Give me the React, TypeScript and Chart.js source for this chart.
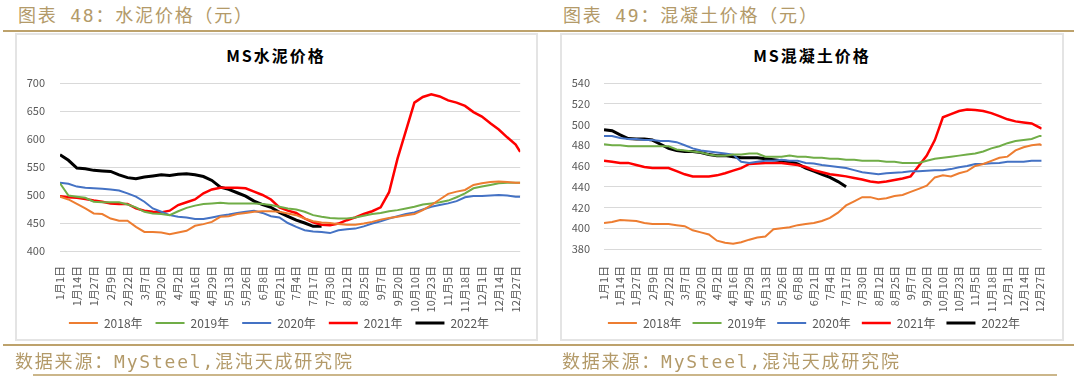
import React, { useEffect, useRef } from 'react';
import { Chart, registerables } from 'chart.js';

Chart.register(...registerables);

// ---------- data ----------
const tickLabels = ['1月1日', '1月14日', '1月27日', '2月9日', '2月22日', '3月7日', '3月20日', '4月2日', '4月16日', '4月29日', '5月13日', '5月26日', '6月8日', '6月21日', '7月4日', '7月17日', '7月30日', '8月12日', '8月25日', '9月7日', '9月20日', '10月10日', '10月23日', '11月5日', '11月18日', '12月1日', '12月14日', '12月27日'];

const years = ['2018年', '2019年', '2020年', '2021年', '2022年'];

// samples every half tick-label step, plus the last sample of the year
const cementEnd = 27.27;
const concreteEnd = 27.12;

const cement2018 = [497, 492, 484, 476, 467, 466, 458, 454, 454, 443, 434, 434, 433, 430, 433, 436, 445, 448, 452, 461, 462, 466, 468, 470, 471, 471, 470, 467, 464, 458, 453, 451, 450, 448, 447, 447, 449, 452, 456, 459, 461, 464, 466, 473, 482, 492, 502, 506, 509, 518, 521, 523, 524, 523, 522, 522];
const cement2019 = [521, 499, 497, 495, 488, 487, 487, 487, 483, 478, 470, 467, 466, 464, 471, 477, 481, 484, 485, 486, 485, 485, 485, 485, 484, 482, 479, 476, 474, 470, 464, 461, 459, 458, 458, 460, 463, 466, 468, 471, 473, 476, 479, 483, 485, 487, 490, 496, 503, 512, 515, 518, 521, 522, 522, 522];
const cement2020 = [522, 520, 515, 513, 512, 511, 510, 508, 503, 497, 488, 476, 470, 464, 461, 460, 457, 457, 460, 463, 465, 468, 470, 472, 468, 462, 460, 450, 443, 437, 435, 434, 432, 437, 439, 440, 444, 449, 453, 458, 462, 466, 469, 474, 479, 482, 485, 489, 496, 498, 498, 499, 500, 499, 497, 497];
const cement2021 = [498, 496, 495, 493, 490, 488, 485, 484, 484, 476, 472, 470, 469, 472, 482, 487, 492, 503, 510, 513, 513, 513, 512, 506, 500, 492, 478, 472, 468, 458, 451, 447, 446, 449, 455, 460, 466, 471, 478, 505, 565, 615, 665, 675, 680, 676, 669, 665, 659, 648, 640, 628, 617, 603, 590, 577];
const cement2022 = [572, 562, 548, 547, 544, 543, 542, 536, 531, 529, 532, 534, 536, 535, 537, 538, 536, 533, 526, 514, 510, 504, 498, 489, 483, 478, 469, 462, 455, 450, 444, 444];

const concrete2018 = [405, 406, 408, 407.5, 407, 405, 404, 404, 404, 403, 402, 398, 396, 394, 388, 386, 385, 386.5, 389, 391, 392, 399, 400, 401, 403, 404, 405, 407, 410, 415, 422, 426, 430, 430, 428, 429, 431, 432, 435, 438, 441, 449, 451, 450, 453, 455, 460, 462, 465, 468, 469, 475, 478, 480, 481, 480];
const concrete2019 = [481, 480, 480, 479, 479, 479, 479, 479, 479, 476, 475, 474, 473, 471, 470, 470, 471, 471, 472, 472, 469, 469, 469, 470, 469, 469, 468, 468, 467, 467, 466, 466, 465, 465, 465, 464, 464, 463, 463, 463, 465, 467, 468, 469, 470, 471, 472, 474, 477, 479, 482, 484, 485, 486, 489, 489];
const concrete2020 = [489, 489, 487, 486, 486, 485, 485, 484, 484, 483, 480, 477, 475, 474, 473, 472, 471, 464, 463, 464, 465, 465, 466, 465, 465, 463, 462.5, 461, 460, 459, 458, 456, 454, 453, 452, 453, 453.5, 454, 455, 455, 455.5, 456, 456, 457, 458.7, 460, 462, 462, 462.6, 463, 464, 464, 464, 465, 465, 465];
const concrete2021 = [465, 464, 463, 463, 461, 459, 458, 458, 458, 455, 452, 450, 450, 450, 451, 453, 455.5, 458, 462, 462.5, 463, 463, 463, 462, 461, 459, 456, 454, 452, 451, 450, 448.5, 447, 445, 444, 445, 446.6, 448, 450, 460, 470, 485, 507, 510, 513, 514.5, 514, 513, 511, 508, 505, 503, 502, 501, 497, 496];
const concrete2022 = [495, 494, 490, 486.5, 486, 486, 485, 481, 477, 475, 474, 474, 473, 471, 470, 470, 469, 468, 468, 468, 467, 466, 465, 464, 462, 458, 455, 452, 449, 445, 440];

// ---------- styles ----------
const lineColors = ['#ED7D31', '#70AD47', '#4472C4', '#FF0000', '#000000'];
const lineWidths = [2, 2, 2, 2.5, 3];
const axisFont = { family: '"Noto Sans CJK SC", "Noto Sans", sans-serif', size: 11 };
const legendFont = { family: '"Noto Sans CJK SC", "Noto Sans", sans-serif', size: 12 };
const goldText = '#b39a69';
const goldLine = '#bda26c';
const cjkMono = '"DejaVu Sans Mono", "Noto Sans CJK SC", sans-serif';

function samplePositions(end: number) {
  const pos: number[] = [];
  for (let k = 0; k <= 54; k++) pos.push(k / 2);
  pos.push(end);
  return pos;
}

// moves the legend box so that its row is centred on a given point
const legendPlacer = {
  id: 'legendPlacer',
  afterLayout(chart: any, _args: any, opts: any) {
    const lg = chart.legend;
    if (!lg) return;
    const pad = lg.options.labels.padding;
    const fs = lg.options.labels.font.size;
    const dx = opts.cx - (lg.left + lg.right) / 2;
    const dy = opts.cy - (lg.top + pad + fs / 2);
    lg.left += dx;
    lg.right += dx;
    lg.top += dy;
    lg.bottom += dy;
  },
};

type ChartProps = {
  series: number[][];
  xEnd: number;
  yMin: number;
  yMax: number;
  yStep: number;
  left: number;
  top: number;
  width: number;
  height: number;
  padRight: number;
  padTop: number;
  padBottom: number;
  yWidth: number;
  yPad: number;
  xHeight: number;
  xPad: number;
  legendPad: number;
  legendCx: number;
  legendCy: number;
};

function PriceChart(p: ChartProps) {
  const ref = useRef<HTMLCanvasElement>(null);
  useEffect(() => {
    const pos = samplePositions(p.xEnd);
    const chart = new Chart(ref.current as HTMLCanvasElement, {
      type: 'line',
      data: {
        datasets: p.series.map((s, k) => ({
          label: years[k],
          data: s.map((v, j) => ({ x: pos[j], y: v })),
          borderColor: lineColors[k],
          backgroundColor: lineColors[k],
          borderWidth: lineWidths[k],
          pointRadius: 0,
          tension: 0,
          fill: false,
        })),
      },
      plugins: [legendPlacer],
      options: {
        responsive: false,
        animation: false,
        layout: { padding: { left: 0, right: p.padRight, top: p.padTop, bottom: p.padBottom } },
        plugins: {
          legend: {
            position: 'bottom',
            labels: {
              usePointStyle: true,
              pointStyle: 'line',
              pointStyleWidth: 29,
              padding: p.legendPad,
              color: '#595959',
              font: legendFont,
            },
          },
          legendPlacer: { cx: p.legendCx, cy: p.legendCy },
          tooltip: { enabled: false },
          title: { display: false },
        },
        scales: {
          x: {
            type: 'linear',
            min: 0,
            max: p.xEnd,
            grid: { display: false },
            border: { display: false },
            afterBuildTicks: (axis: any) => {
              axis.ticks = tickLabels.map((_, i) => ({ value: i }));
            },
            afterFit: (axis: any) => {
              axis.height = p.xHeight;
            },
            ticks: {
              autoSkip: false,
              maxRotation: 90,
              minRotation: 90,
              padding: p.xPad,
              color: '#595959',
              font: axisFont,
              callback: (v: any) => tickLabels[v] ?? '',
            },
          },
          y: {
            min: p.yMin,
            max: p.yMax,
            grid: { color: '#d9d9d9', drawTicks: false },
            border: { display: false },
            afterFit: (axis: any) => {
              axis.width = p.yWidth;
            },
            ticks: {
              stepSize: p.yStep,
              padding: p.yPad,
              color: '#595959',
              font: axisFont,
            },
          },
        },
      },
    } as any);
    return () => chart.destroy();
  }, []);
  return (
    <canvas
      ref={ref}
      width={p.width}
      height={p.height}
      style={{ position: 'absolute', left: p.left, top: p.top, width: p.width, height: p.height }}
    />
  );
}

export default function App() {
  const abs = (s: React.CSSProperties): React.CSSProperties => ({ position: 'absolute', ...s });
  const header: React.CSSProperties = { top: 5, fontSize: 18, lineHeight: '22px', letterSpacing: 1.8, color: goldText, fontFamily: cjkMono, whiteSpace: 'nowrap' };
  const source: React.CSSProperties = { top: 351, fontSize: 18, lineHeight: '22px', letterSpacing: 1.8, color: goldText, fontFamily: cjkMono, whiteSpace: 'nowrap' };
  const chartTitle: React.CSSProperties = { top: 45, transform: 'translateX(-50%)', fontSize: 16, lineHeight: '20px', fontWeight: 'bold', letterSpacing: 2, color: '#000', fontFamily: '"Noto Sans CJK SC", sans-serif', whiteSpace: 'nowrap' };
  return (
    <div style={{ position: 'fixed', left: 0, top: 0, width: 1080, height: 376, background: '#fff', overflow: 'hidden' }}>
      <div style={abs({ left: 18, ...header })}>图表 48：水泥价格（元）</div>
      <div style={abs({ left: 563, ...header })}>图表 49：混凝土价格（元）</div>
      <div style={abs({ left: 3, top: 30, width: 1071, height: 2, background: goldLine })} />

      <div style={abs({ left: 15, top: 33, width: 523, height: 308, border: '2px solid #e4e4e4', boxSizing: 'border-box' })} />
      <div style={abs({ left: 560, top: 33, width: 504, height: 308, border: '2px solid #e4e4e4', boxSizing: 'border-box' })} />

      <div style={abs({ left: 276, ...chartTitle })}>MS水泥价格</div>
      <div style={abs({ left: 812, ...chartTitle })}>MS混凝土价格</div>

      <PriceChart
        series={[cement2018, cement2019, cement2020, cement2021, cement2022]}
        xEnd={cementEnd}
        yMin={400}
        yMax={700}
        yStep={50}
        left={16}
        top={34}
        width={520}
        height={320}
        padRight={15}
        padTop={49}
        padBottom={6}
        yWidth={44}
        yPad={15}
        xHeight={62}
        xPad={7}
        legendPad={13}
        legendCx={263}
        legendCy={289}
      />
      <PriceChart
        series={[concrete2018, concrete2019, concrete2020, concrete2021, concrete2022]}
        xEnd={concreteEnd}
        yMin={380}
        yMax={540}
        yStep={20}
        left={562}
        top={34}
        width={500}
        height={320}
        padRight={15}
        padTop={49}
        padBottom={10}
        yWidth={42}
        yPad={14}
        xHeight={62}
        xPad={9}
        legendPad={11}
        legendCx={252}
        legendCy={289}
      />

      <div style={abs({ left: 3, top: 344, width: 1071, height: 2, background: goldLine })} />
      <div style={abs({ left: 15, ...source })}>数据来源：MySteel,混沌天成研究院</div>
      <div style={abs({ left: 562, ...source })}>数据来源：MySteel,混沌天成研究院</div>
      <div style={abs({ left: 33, top: 374, width: 1024, height: 2, background: '#cbb68a' })} />
    </div>
  );
}
